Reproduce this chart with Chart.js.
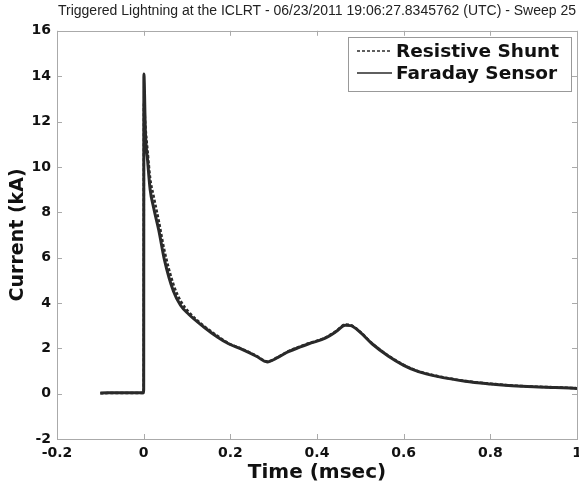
<!DOCTYPE html>
<html>
<head>
<meta charset="utf-8">
<script src="https://cdn.jsdelivr.net/npm/chart.js@4.4.0/dist/chart.umd.min.js"></script>
<style>
html,body{margin:0;padding:0;background:#fff;}
#wrap{width:579px;height:486px;}
</style>
</head>
<body>
<div id="wrap"><canvas id="c" width="579" height="486"></canvas></div>
<script>
const chartTitle = "Triggered Lightning at the ICLRT - 06/23/2011 19:06:27.8345762 (UTC) - Sweep 25";
const xLabel = "Time (msec)";
const yLabel = "Current (kA)";
const seriesNames = ["Resistive Shunt", "Faraday Sensor"];

const faradayT = [-0.1,-0.05,0,0.0005,0.004,0.009,0.015,0.023,0.035,0.048,0.069,0.085,0.104,0.138,0.17,0.196,0.227,0.26,0.285,0.31,0.334,0.36,0.381,0.419,0.445,0.465,0.478,0.5,0.527,0.565,0.6,0.634,0.68,0.742,0.8,0.85,0.9,0.95,1.0];
const faradayI = [0.03,0.04,0.04,14.1,11.5,10.3,9.0,8.2,7.2,5.9,4.5,3.9,3.5,2.95,2.5,2.2,1.95,1.65,1.4,1.6,1.85,2.05,2.2,2.45,2.75,3.02,3.0,2.7,2.2,1.65,1.25,0.97,0.75,0.55,0.43,0.35,0.3,0.27,0.23];

const shuntT = [-0.1,-0.05,0,0.0005,0.004,0.009,0.015,0.023,0.035,0.048,0.069,0.085,0.104,0.138,0.17,0.196,0.227,0.26,0.285,0.31,0.334,0.36,0.381,0.419,0.445,0.465,0.478,0.5,0.527,0.565,0.6,0.634,0.68,0.742,0.8,0.85,0.9,0.95,1.0];
const shuntI = [0.02,0.03,0.03,12.8,11.8,10.7,9.5,8.7,7.6,6.3,4.8,4.1,3.6,3.0,2.55,2.22,1.97,1.67,1.42,1.62,1.87,2.07,2.22,2.47,2.77,3.05,3.02,2.72,2.22,1.67,1.27,0.99,0.77,0.56,0.44,0.36,0.31,0.28,0.24];

const xTickLabels = ["-0.2","0","0.2","0.4","0.6","0.8","1"];
const yTickLabels = ["-2","0","2","4","6","8","10","12","14","16"];
const xTicks = {min:-0.2, max:1, step:0.2};
const yTicks = {min:-2, max:16, step:2};

const toPts = (t, v) => t.map((x, i) => ({x: x, y: v[i]}));

const frameColor = '#aaaaaa';
const lineColor = '#2a2a2a';

const framePlugin = {
  id: 'frame',
  afterDraw(chart) {
    const {ctx, chartArea: a, scales} = chart;
    ctx.save();
    ctx.strokeStyle = frameColor;
    ctx.lineWidth = 1;
    ctx.strokeRect(Math.round(a.left)+0.5, Math.round(a.top)+0.5, Math.round(a.right-a.left), Math.round(a.bottom-a.top));
    const tl = 5;
    ctx.beginPath();
    scales.x.ticks.forEach(t => {
      const px = Math.round(scales.x.getPixelForValue(t.value)) + 0.5;
      ctx.moveTo(px, a.bottom); ctx.lineTo(px, a.bottom - tl);
      ctx.moveTo(px, a.top); ctx.lineTo(px, a.top + tl);
    });
    scales.y.ticks.forEach(t => {
      const py = Math.round(scales.y.getPixelForValue(t.value)) + 0.5;
      ctx.moveTo(a.left, py); ctx.lineTo(a.left + tl, py);
      ctx.moveTo(a.right, py); ctx.lineTo(a.right - tl, py);
    });
    ctx.stroke();

    // legend box inside plot
    const bx = 348, by = 37, bw = 223, bh = 54;
    ctx.fillStyle = '#fff';
    ctx.fillRect(bx, by, bw, bh);
    ctx.strokeStyle = '#999';
    ctx.strokeRect(bx+0.5, by+0.5, bw, bh);
    ctx.font = 'bold 18.5px "DejaVu Sans"';
    ctx.textBaseline = 'middle';
    ctx.fillStyle = '#111';
    chart.data.datasets.forEach((ds, i) => {
      const cy = by + 14 + i*22;
      ctx.save();
      ctx.strokeStyle = lineColor;
      ctx.lineWidth = 1.5;
      ctx.setLineDash(ds.borderDash || []);
      ctx.beginPath();
      ctx.moveTo(357, cy); ctx.lineTo(392, cy);
      ctx.stroke();
      ctx.restore();
      ctx.fillText(ds.label, 396, cy + 1);
    });
    ctx.restore();
  }
};

function labelFor(list, min, step, value) {
  const i = Math.round((value - min) / step);
  return list[i] !== undefined ? list[i] : '';
}

new Chart(document.getElementById('c'), {
  type: 'line',
  data: {
    datasets: [
      {label: seriesNames[0], data: toPts(shuntT, shuntI), borderColor: lineColor, borderWidth: 2.5, borderDash: [3,2], pointRadius: 0, fill: false, cubicInterpolationMode: 'monotone'},
      {label: seriesNames[1], data: toPts(faradayT, faradayI), borderColor: lineColor, borderWidth: 3, pointRadius: 0, fill: false, cubicInterpolationMode: 'monotone'}
    ]
  },
  plugins: [framePlugin],
  options: {
    responsive: false,
    animation: false,
    layout: {padding: {top: 0, right: 2, bottom: 0, left: 7}},
    plugins: {
      legend: {display: false},
      tooltip: {enabled: false},
      title: {display: true, text: chartTitle, fullSize: false, color: '#222', font: {family: '"Liberation Sans", Arial', size: 14, weight: 'normal'}, padding: {top: 3, bottom: 11}}
    },
    scales: {
      x: {
        type: 'linear', min: xTicks.min, max: xTicks.max,
        ticks: {stepSize: xTicks.step, color: '#111', font: {family: '"DejaVu Sans"', size: 14, weight: 'bold'}, padding: 6, maxRotation: 0,
          callback: v => labelFor(xTickLabels, xTicks.min, xTicks.step, v)},
        grid: {display: false, drawTicks: false}, border: {display: false},
        title: {display: true, text: xLabel, color: '#111', font: {family: '"DejaVu Sans"', size: 20, weight: 'bold'}, padding: {top: 0, bottom: 1}},
        afterFit(scale) { scale.paddingRight = 2; scale.paddingLeft = 0; scale.height = 47; }
      },
      y: {
        min: yTicks.min, max: yTicks.max,
        ticks: {stepSize: yTicks.step, color: '#111', font: {family: '"DejaVu Sans"', size: 14, weight: 'bold'}, padding: 6,
          callback: v => labelFor(yTickLabels, yTicks.min, yTicks.step, v)},
        grid: {display: false, drawTicks: false}, border: {display: false},
        title: {display: true, text: yLabel, color: '#111', font: {family: '"DejaVu Sans"', size: 19, weight: 'bold'}, padding: {top: 0, bottom: 2}},
        afterFit(scale) { scale.width = 50; }
      }
    }
  }
});
</script>
</body>
</html>
